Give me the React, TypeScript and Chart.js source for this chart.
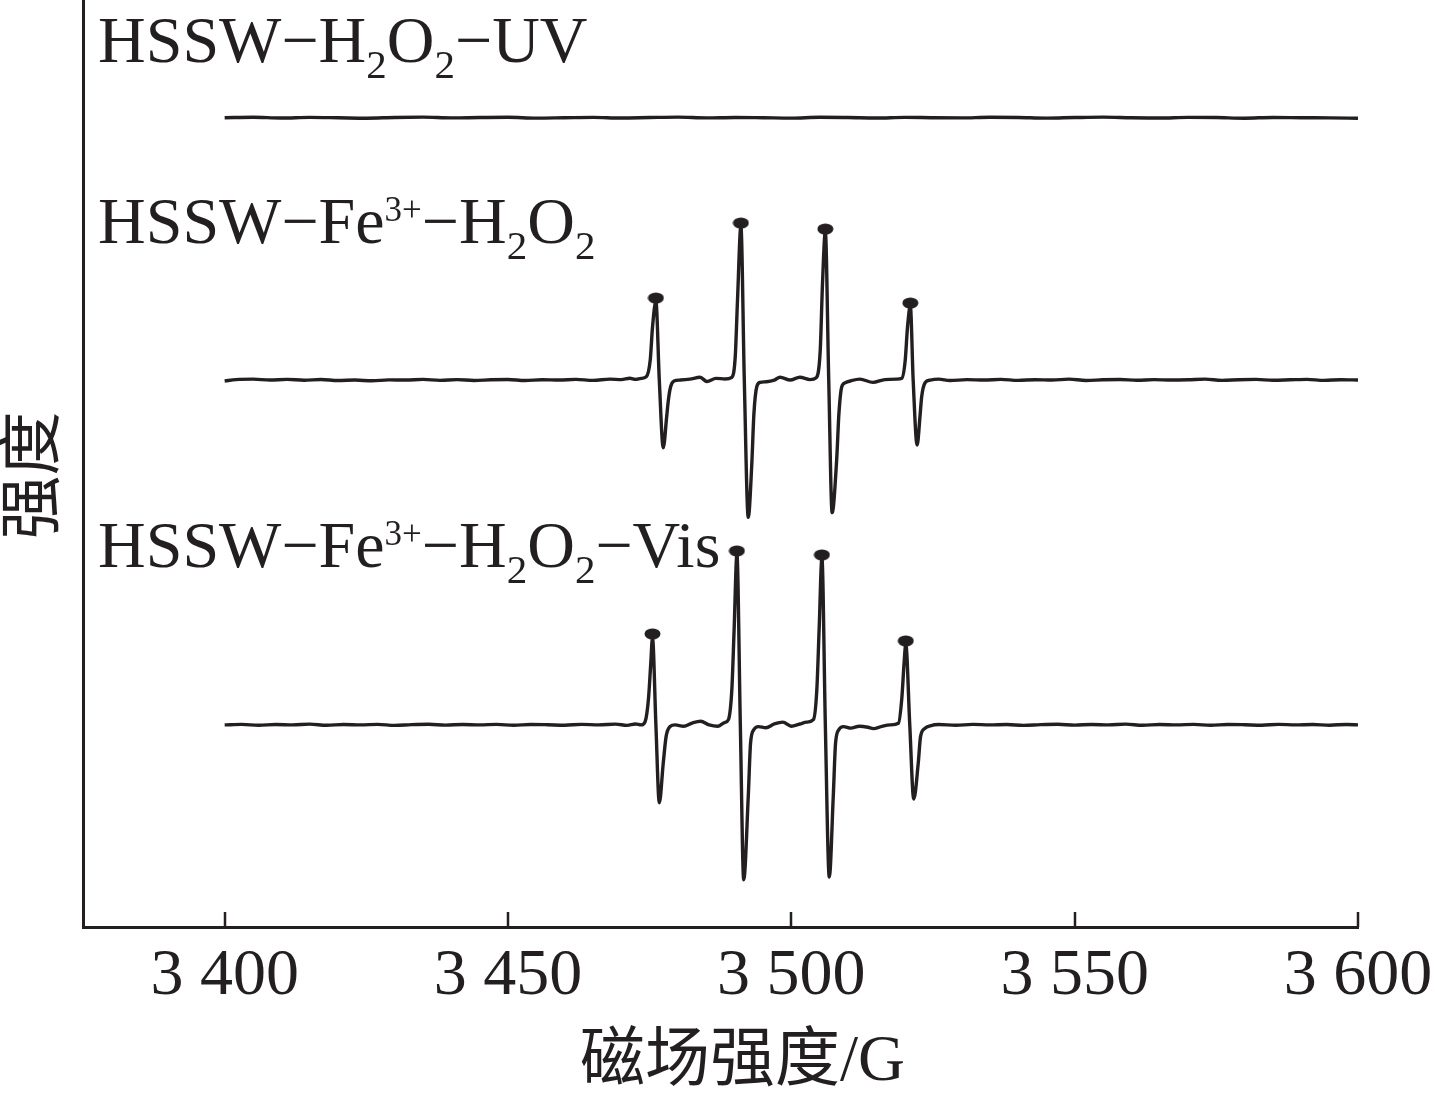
import React, { useEffect, useRef } from 'react';
import { Chart, registerables } from 'chart.js';

Chart.register(...registerables);

// ---------------- data ----------------
const FIELD_MIN = 3375;
const FIELD_MAX = 3600;
const FIELD_TICKS = [3400, 3450, 3500, 3550, 3600];
const FIELD_TICK_LABELS = ['3 400', '3 450', '3 500', '3 550', '3 600'];

const X_TITLE = '磁场强度/G';
const Y_TITLE = '强度';

// HSSW-H2O2-UV : flat, no DMPO-OH signal
const uvField = [
  3400, 3405, 3410, 3415, 3420, 3425, 3430, 3435, 3440, 3445, 3450, 3455, 3460, 3465,
  3470, 3475, 3480, 3485, 3490, 3495, 3500, 3505, 3510, 3515, 3520, 3525, 3530, 3535,
  3540, 3545, 3550, 3555, 3560, 3565, 3570, 3575, 3580, 3585, 3590, 3595, 3600,
];
const uvIntensity = [
  0.0, 0.05, -0.03, 0.04, 0.0, -0.05, 0.03, 0.06, -0.02, 0.02, 0.05, -0.04, 0.0, 0.04,
  -0.03, 0.02, 0.06, -0.02, 0.03, 0.0, -0.04, 0.05, 0.02, -0.03, 0.04, 0.0, -0.02, 0.05,
  0.03, -0.04, 0.02, 0.06, 0.0, -0.03, 0.04, 0.02, -0.05, 0.03, 0.0, -0.02, -0.06,
];

// HSSW-Fe3+-H2O2 : DMPO-OH quartet
const fentonField = [
  3400, 3402, 3405, 3408, 3411, 3414, 3417, 3420, 3423, 3426, 3429, 3432, 3435, 3438,
  3441, 3444, 3447, 3450, 3453, 3456, 3459, 3462, 3465, 3468, 3470, 3471.5, 3472.5, 3473.5,
  3474.4, 3475.1, 3475.5, 3476.1, 3476.7, 3477.4, 3478.0, 3478.3, 3478.7, 3479.3,
  3480.4, 3482.1, 3483.9, 3485.1, 3486.7, 3488.3, 3489.5,
  3490.1, 3490.5, 3491.1, 3491.7, 3492.4, 3493.0, 3493.4, 3493.9, 3494.5,
  3495.6, 3497.0, 3498.0, 3499.8, 3501.5, 3503.3, 3504.4,
  3505.1, 3505.5, 3506.0, 3506.6, 3507.2, 3508.0, 3508.4, 3508.9, 3509.5,
  3510.4, 3512.1, 3514.4, 3516.5, 3518.6, 3519.5,
  3520.1, 3520.5, 3521.0, 3521.5, 3522.2, 3522.7, 3523.0, 3523.6, 3524.5,
  3526, 3528, 3531, 3534, 3537, 3540, 3543, 3546, 3549, 3552, 3555, 3558, 3561, 3564,
  3567, 3570, 3573, 3576, 3579, 3582, 3585, 3588, 3591, 3594, 3597, 3600,
];
const fentonIntensity = [
  -0.1, 0.05, 0.1, 0.0, 0.08, -0.02, 0.06, -0.05, 0.0, -0.08, 0.02, 0.0, 0.07, -0.03,
  0.05, -0.04, 0.03, 0.06, -0.05, 0.04, 0.0, 0.08, -0.03, 0.1, 0.05, 0.2, 0.08, 0.18,
  0.35, 2.16, 5.7, 8.5, 0.0, -7.3, -3.96, -2.16, -0.72, -0.1,
  0.0, 0.1, 0.3, -0.15, 0.18, 0.12, 0.3,
  2.5, 8.6, 16.6, 0.0, -14.8, -9.35, -3.6, -0.72, -0.25,
  -0.18, 0.0, 0.3, 0.0, 0.3, 0.05, 0.25,
  3.2, 10.4, 16.0, 0.0, -14.3, -8.6, -3.6, -0.72, -0.29,
  -0.1, 0.1, -0.25, 0.05, 0.1, 0.2,
  2.16, 5.7, 8.0, 0.0, -7.0, -3.96, -1.8, -0.29, 0.0,
  0.1, -0.05, 0.05, 0.0, 0.08, -0.03, 0.04, 0.0, 0.1, -0.04, 0.03, 0.06, -0.02, 0.05,
  0.0, 0.03, 0.1, -0.03, 0.04, 0.07, -0.02, 0.03, 0.08, -0.03, 0.04, 0.0,
];

// HSSW-Fe3+-H2O2-Vis : DMPO-OH quartet (stronger)
const visField = [
  3400, 3403, 3406, 3409, 3412, 3415, 3418, 3421, 3424, 3427, 3430, 3433, 3436, 3439,
  3442, 3445, 3448, 3451, 3454, 3457, 3460, 3463, 3466, 3469, 3471, 3472.5, 3473.5,
  3474.2, 3474.8, 3475.2, 3475.5, 3476.1, 3476.7, 3477.4, 3477.9, 3478.6, 3479.5,
  3481.0, 3482.5, 3484.0, 3485.5, 3487.0, 3488.2,
  3488.9, 3489.5, 3489.9, 3490.4, 3491.0, 3491.6, 3492.4, 3492.8, 3493.4, 3494.2,
  3495.5, 3497.0, 3498.5, 3500.0, 3501.5, 3502.7,
  3503.9, 3504.5, 3504.9, 3505.4, 3506.0, 3506.7, 3507.4, 3507.8, 3508.4, 3509.2,
  3510.5, 3512.0, 3513.5, 3514.5, 3516.0, 3517.5, 3518.9,
  3519.5, 3519.9, 3520.2, 3520.9, 3521.6, 3522.4, 3522.8, 3523.6, 3524.5,
  3526, 3529, 3532, 3535, 3538, 3541, 3544, 3547, 3550, 3553, 3556, 3559, 3562, 3565,
  3568, 3571, 3574, 3577, 3580, 3583, 3586, 3589, 3592, 3595, 3598, 3600,
];
const visIntensity = [
  0.0, 0.06, -0.04, 0.05, 0.0, 0.08, -0.03, 0.04, 0.0, 0.06, -0.05, 0.03, 0.07, -0.02,
  0.04, 0.0, 0.06, -0.04, 0.05, 0.02, -0.03, 0.06, 0.0, 0.08, -0.05, 0.1, 0.0,
  0.36, 2.9, 6.7, 9.4, 0.0, -8.4, -4.1, -1.26, -0.18, 0.0,
  -0.15, 0.2, 0.4, 0.0, -0.15, 0.25,
  0.57, 3.8, 10.2, 18.4, 0.0, -16.7, -7.7, -2.0, -0.5, -0.18,
  -0.3, 0.1, 0.3, -0.15, 0.1, 0.3,
  0.57, 3.8, 10.2, 18.0, 0.0, -16.4, -7.7, -2.0, -0.5, -0.18,
  -0.35, -0.15, -0.25, -0.4, -0.15, 0.0, 0.18,
  2.9, 6.7, 8.7, 0.0, -8.0, -4.1, -1.26, -0.36, -0.1,
  0.05, -0.04, 0.06, 0.0, 0.04, -0.05, 0.03, 0.07, -0.02, 0.05, 0.0, 0.08, -0.03, 0.04,
  0.0, 0.06, -0.04, 0.05, 0.02, -0.03, 0.06, 0.0, 0.04, -0.03, 0.05, 0.0,
];

// DMPO-OH peak markers (filled dots above each positive lobe)
const fentonMarkerField = [3476.1, 3491.1, 3506.0, 3521.0];
const fentonMarkerIntensity = [8.85, 16.94, 16.29, 8.31];
const visMarkerField = [3475.5, 3490.4, 3505.4, 3520.2];
const visMarkerIntensity = [9.82, 18.77, 18.34, 9.06];

// vertical stacking offsets of the three spectra (a.u.)
const TRACE_OFFSETS = [87.3, 59.0, 21.8];

// series labels (rich text: sub / sup)
type Seg = { t: string; k?: 'sub' | 'sup' };
const SERIES_LABELS: Seg[][] = [
  [{ t: 'HSSW−H' }, { t: '2', k: 'sub' }, { t: 'O' }, { t: '2', k: 'sub' }, { t: '−UV' }],
  [{ t: 'HSSW−Fe' }, { t: '3+', k: 'sup' }, { t: '−H' }, { t: '2', k: 'sub' }, { t: 'O' }, { t: '2', k: 'sub' }],
  [{ t: 'HSSW−Fe' }, { t: '3+', k: 'sup' }, { t: '−H' }, { t: '2', k: 'sub' }, { t: 'O' }, { t: '2', k: 'sub' }, { t: '−Vis' }],
];

// ---------------- layout / style ----------------
const W = 1435;
const H = 1100;
const INK = '#231f20';
const SERIF = '"Liberation Serif", "Times New Roman", "Noto Sans CJK SC", serif';
const LABEL_ANCHOR_X = 3377.65; // field value where labels start
const LABEL_BASELINES = [93.31, 73.79, 38.83]; // y values of label baselines
const MAIN_SIZE = 66;
const SUB_SIZE = 41;
const SUP_SIZE = 35;

function makeDot(): HTMLCanvasElement {
  const c = document.createElement('canvas');
  c.width = 17;
  c.height = 12;
  const g = c.getContext('2d')!;
  g.fillStyle = INK;
  g.beginPath();
  g.ellipse(8.5, 6, 8, 5.5, 0, 0, Math.PI * 2);
  g.fill();
  return c;
}

function drawRich(ctx: CanvasRenderingContext2D, x0: number, y0: number, segs: Seg[]) {
  let x = x0;
  ctx.textAlign = 'left';
  ctx.textBaseline = 'alphabetic';
  for (const s of segs) {
    let size = MAIN_SIZE;
    let dy = 0;
    if (s.k === 'sub') { size = SUB_SIZE; dy = 16; }
    if (s.k === 'sup') { size = SUP_SIZE; dy = -22; }
    ctx.font = `${size}px ${SERIF}`;
    ctx.fillText(s.t, x, y0 + dy);
    x += ctx.measureText(s.t).width;
  }
}

const decorPlugin = {
  id: 'decor',
  afterDraw(chart: any) {
    const { ctx, chartArea, scales } = chart;
    const xs = scales.x;
    const ys = scales.y;
    ctx.save();
    // inward tick marks
    ctx.strokeStyle = INK;
    ctx.lineWidth = 2.5;
    xs.ticks.forEach((t: any) => {
      const px = Math.round(xs.getPixelForValue(t.value));
      ctx.beginPath();
      ctx.moveTo(px, chartArea.bottom);
      ctx.lineTo(px, chartArea.bottom - 15);
      ctx.stroke();
    });
    // series labels
    ctx.fillStyle = INK;
    SERIES_LABELS.forEach((segs, i) => {
      drawRich(ctx, xs.getPixelForValue(LABEL_ANCHOR_X), ys.getPixelForValue(LABEL_BASELINES[i]), segs);
    });
    // axis titles
    ctx.font = `65px ${SERIF}`;
    ctx.textAlign = 'center';
    ctx.textBaseline = 'middle';
    ctx.fillText(X_TITLE, (chartArea.left + chartArea.right) / 2 + 22, chartArea.bottom + 136);
    ctx.save();
    ctx.font = `64px ${SERIF}`;
    ctx.translate(chartArea.left - 47, (chartArea.top + chartArea.bottom) / 2 + 12);
    ctx.rotate(-Math.PI / 2);
    ctx.fillText(Y_TITLE, 0, 0);
    ctx.restore();
    ctx.restore();
  },
};

function toPoints(field: number[], intensity: number[], offset: number) {
  return field.map((x, i) => ({ x, y: intensity[i] + offset }));
}

export default function App() {
  const ref = useRef<HTMLCanvasElement>(null);

  useEffect(() => {
    const canvas = ref.current;
    if (!canvas) return;
    const dot = makeDot();
    const lineStyle = {
      borderColor: INK,
      borderWidth: 3.4,
      pointRadius: 0,
      fill: false,
      cubicInterpolationMode: 'monotone' as const,
    };
    const markerStyle = {
      showLine: false,
      pointStyle: dot as any,
      pointRadius: 6,
      borderColor: INK,
      backgroundColor: INK,
    };
    const chart = new Chart(canvas, {
      type: 'line',
      data: {
        datasets: [
          { label: 'HSSW−H2O2−UV', data: toPoints(uvField, uvIntensity, TRACE_OFFSETS[0]), ...lineStyle },
          { label: 'HSSW−Fe3+−H2O2', data: toPoints(fentonField, fentonIntensity, TRACE_OFFSETS[1]), ...lineStyle },
          { label: 'HSSW−Fe3+−H2O2−Vis', data: toPoints(visField, visIntensity, TRACE_OFFSETS[2]), ...lineStyle },
          { label: 'DMPO-OH (Fe3+)', data: toPoints(fentonMarkerField, fentonMarkerIntensity, TRACE_OFFSETS[1]), ...markerStyle },
          { label: 'DMPO-OH (Vis)', data: toPoints(visMarkerField, visMarkerIntensity, TRACE_OFFSETS[2]), ...markerStyle },
        ],
      },
      options: {
        responsive: false,
        animation: false,
        devicePixelRatio: 1,
        events: [],
        layout: { autoPadding: false, padding: { left: 0, right: 77, top: 0, bottom: 0 } },
        plugins: { legend: { display: false }, tooltip: { enabled: false } },
        scales: {
          x: {
            type: 'linear',
            min: FIELD_MIN,
            max: FIELD_MAX,
            afterBuildTicks: (scale: any) => {
              scale.ticks = FIELD_TICKS.map((v) => ({ value: v }));
            },
            afterFit: (scale: any) => {
              scale.height = 173;
              scale.paddingLeft = 0;
              scale.paddingRight = 0;
            },
            ticks: {
              autoSkip: false,
              maxRotation: 0,
              minRotation: 0,
              padding: 17,
              color: INK,
              font: { family: SERIF, size: 66, lineHeight: 1 },
              callback: (v: any) => {
                const i = FIELD_TICKS.indexOf(Number(v));
                return i >= 0 ? FIELD_TICK_LABELS[i] : '';
              },
            },
            grid: { display: false, drawTicks: false },
            border: { display: true, color: INK, width: 3 },
          },
          y: {
            type: 'linear',
            min: 0,
            max: 100,
            afterFit: (scale: any) => {
              scale.width = 83;
              scale.paddingTop = 0;
              scale.paddingBottom = 0;
            },
            ticks: { display: false },
            grid: { display: false, drawTicks: false },
            border: { display: true, color: INK, width: 3 },
          },
        },
      },
      plugins: [decorPlugin],
    } as any);
    return () => chart.destroy();
  }, []);

  return (
    <div style={{ position: 'fixed', left: 0, top: 0, width: W, height: H, background: '#ffffff' }}>
      <canvas ref={ref} width={W} height={H} style={{ display: 'block', width: W, height: H }} />
    </div>
  );
}
